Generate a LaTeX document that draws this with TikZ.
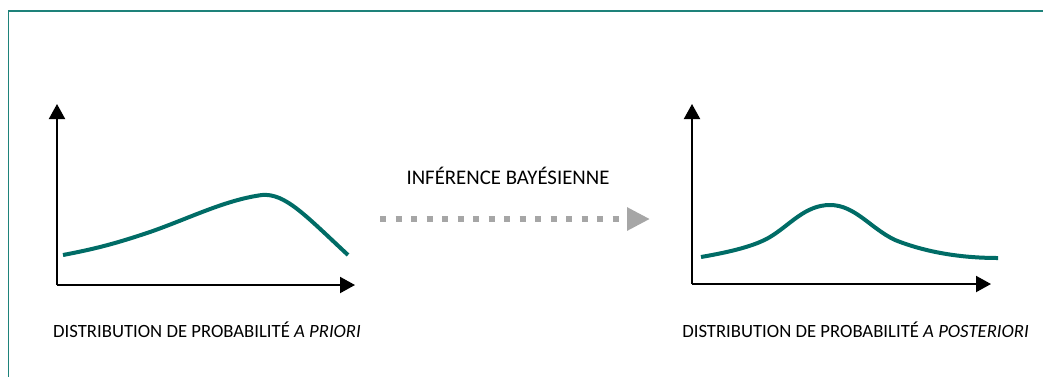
\documentclass[tikz,border=0pt]{standalone}
\usepackage{fontspec}
\setmainfont{Carlito}
\usetikzlibrary{arrows.meta}
\definecolor{tealcurve}{RGB}{0,108,102}
\definecolor{tealframe}{RGB}{30,130,122}
\definecolor{arrowgray}{RGB}{166,166,166}
\tikzset{
  axis/.style={line width=2pt,-{Triangle[length=15pt,width=16pt]}},
  curve/.style={line width=4pt,tealcurve},
  lbl/.style={font=\fontsize{18.7}{21}\selectfont,inner sep=0pt},
  biglbl/.style={font=\fontsize{20.8}{23}\selectfont,inner sep=0pt},
  infer/.style={line width=6pt,arrowgray,dash pattern=on 6pt off 9.5pt,-{Triangle[length=23pt,width=22pt]}},
}
\begin{document}
\begin{tikzpicture}[x=1pt,y=-1pt]
\useasboundingbox (0,0) rectangle (1043,376);
\draw[tealframe,line width=1.5pt] (8.5,390) -- (8.5,11) -- (1060,11);
% left plot
\coordinate (o1) at (57,285);
\coordinate (y1) at (57,104);
\coordinate (x1) at (355,285);
\draw[axis] (o1) -- (y1);
\draw[axis] (o1) -- (x1);
\draw[curve] (63,255) .. controls (100,248) and (120,242) .. (150,232)
  .. controls (190,218) and (225,200) .. (262,195)
  .. controls (285,193) and (305,215) .. (348,255);
\node[lbl] (prior) at (207,330) {DISTRIBUTION DE PROBABILITÉ \textit{A PRIORI}};
% right plot
\coordinate (o2) at (692,284);
\coordinate (y2) at (692,104);
\coordinate (x2) at (991,284);
\draw[axis] (o2) -- (y2);
\draw[axis] (o2) -- (x2);
\draw[curve] (701,257) .. controls (730,252) and (755,246) .. (770,237)
  .. controls (790,225) and (805,205) .. (830,205)
  .. controls (855,205) and (870,228) .. (895,240)
  .. controls (925,252) and (960,258) .. (998,258);
\node[lbl] (post) at (855.5,330) {DISTRIBUTION DE PROBABILITÉ \textit{A POSTERIORI}};
% inference arrow
\node[biglbl] (inf) at (508,176) {INFÉRENCE BAYÉSIENNE};
\coordinate (a1) at (380,219);
\coordinate (a2) at (650,219);
\draw[infer] (a1) -- (a2);
\end{tikzpicture}
\end{document}
